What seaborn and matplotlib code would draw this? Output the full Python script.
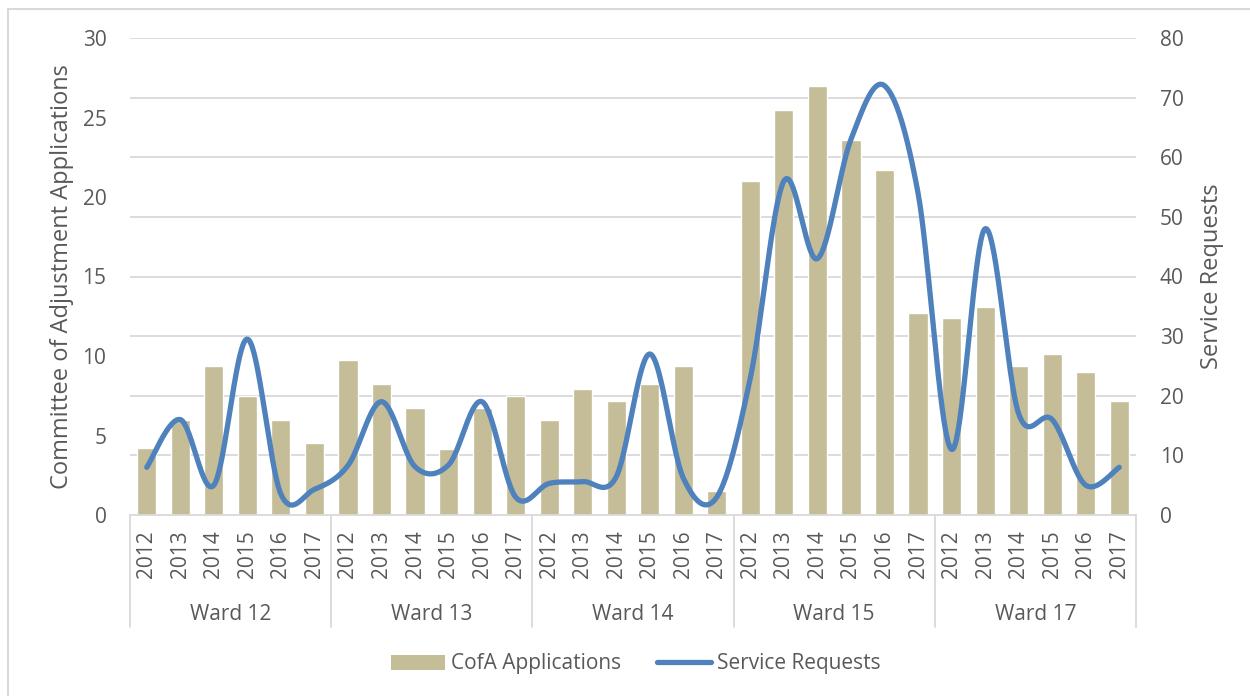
import numpy as np
import pandas as pd
import matplotlib
matplotlib.use("Agg")
import matplotlib.pyplot as plt
import seaborn as sns
from matplotlib.patches import Rectangle, Patch
from matplotlib.lines import Line2D
from matplotlib.transforms import blended_transform_factory

# ---- data -------------------------------------------------------------
wards = ["Ward 12", "Ward 13", "Ward 14", "Ward 15", "Ward 17"]
years = ["2012", "2013", "2014", "2015", "2016", "2017"]

cofa_ward12 = [4.2, 6.0, 9.4, 7.5, 6.0, 4.5]
cofa_ward13 = [9.75, 8.25, 6.75, 4.15, 6.75, 7.5]
cofa_ward14 = [6.0, 7.9, 7.15, 8.25, 9.4, 1.5]
cofa_ward15 = [21.0, 25.45, 26.95, 23.6, 21.7, 12.7]
cofa_ward17 = [12.4, 13.1, 9.4, 10.1, 9.0, 7.15]

service_ward12 = [8, 16, 5, 29.5, 3.5, 4.3]
service_ward13 = [8.3, 19, 8.1, 8.4, 19, 3.0]
service_ward14 = [5.3, 5.6, 6.4, 27, 6.2, 3.0]
service_ward15 = [23, 56, 43, 63, 72, 54]
service_ward17 = [11, 48, 17, 16, 5, 8]

left_ticks = [0, 5, 10, 15, 20, 25, 30]
right_ticks = [0, 10, 20, 30, 40, 50, 60, 70, 80]

cofa = cofa_ward12 + cofa_ward13 + cofa_ward14 + cofa_ward15 + cofa_ward17
service = service_ward12 + service_ward13 + service_ward14 + service_ward15 + service_ward17

df = pd.DataFrame({
    "ward": np.repeat(wards, len(years)),
    "year": years * len(wards),
    "cofa": cofa,
    "service": service,
})
df["slot"] = df["ward"] + " " + df["year"]

# ---- style ------------------------------------------------------------
sns.set_theme(style="white")
plt.rcParams["font.family"] = ["Open Sans", "DejaVu Sans"]
TEXT = "#595959"
GRID = "#D9D9D9"
BAR = "#C4BD97"
LINE = "#4F81BD"
FS = 15

W, H = 1250, 696
fig = plt.figure(figsize=(W / 100, H / 100), dpi=100)
L, R, T, B = 130, 1136, 38, 515
ax = fig.add_axes([L / W, 1 - B / H, (R - L) / W, (B - T) / H])

# outer chart frame
fig.patches.append(Rectangle((8 / W, -0.2), 1.2, 1 - 9 / H + 0.2,
                             transform=fig.transFigure, fill=False,
                             edgecolor=GRID, linewidth=1.5, zorder=0))

# ---- bars (left axis) -------------------------------------------------
sns.barplot(data=df, x="slot", y="cofa", order=list(df["slot"]),
            color=BAR, saturation=1, width=0.57, ax=ax, zorder=2)
ax.set_xlim(-0.5, len(df) - 0.5)
ymax_left = left_ticks[-1]
ax.set_ylim(0, ymax_left)
ax.set_yticks(left_ticks)
ax.set_yticklabels([str(t) for t in left_ticks])

# horizontal gridlines follow the secondary axis steps
for t in right_ticks[1:]:
    ax.axhline(t * ymax_left / right_ticks[-1], color=GRID, lw=1.3, zorder=0)

ax.set_xticks(range(len(df)))
ax.set_xticklabels(df["year"], rotation=90, ha="center", va="top")
ax.tick_params(axis="x", length=0, pad=11, labelsize=FS, labelcolor=TEXT)
ax.tick_params(axis="y", length=0, pad=17, labelsize=FS, labelcolor=TEXT)
ax.set_xlabel("")
ax.set_ylabel("Committee of Adjustment Applications", fontsize=FS + 2,
              color=TEXT, labelpad=6)
for s in ["top", "right", "left"]:
    ax.spines[s].set_visible(False)
ax.spines["bottom"].set_color(GRID)
ax.spines["bottom"].set_linewidth(1.3)

# ward group separators and labels below the axis
trans = blended_transform_factory(ax.transData, ax.transAxes)
sep_depth = (627 - B) / (B - T)
n = len(years)
for i in range(len(wards) + 1):
    xb = i * n - 0.5
    ax.plot([xb, xb], [0, -sep_depth], transform=trans, color=GRID,
            lw=1.3, clip_on=False)
for i, w in enumerate(wards):
    ax.text(i * n + (n - 1) / 2, -(614 - B) / (B - T), w, transform=trans,
            ha="center", va="center", fontsize=FS, color=TEXT)

# ---- smoothed line (right axis) ---------------------------------------
ax2 = ax.twinx()


def catmull_rom(x, y, steps=40):
    px = np.concatenate([[x[0]], x, [x[-1]]])
    py = np.concatenate([[y[0]], y, [y[-1]]])
    xs, ys = [], []
    t = np.linspace(0, 1, steps, endpoint=False)
    for i in range(len(x) - 1):
        for p, out in ((px, xs), (py, ys)):
            p0, p1, p2, p3 = p[i], p[i + 1], p[i + 2], p[i + 3]
            out.append(0.5 * ((2 * p1) + (-p0 + p2) * t
                              + (2 * p0 - 5 * p1 + 4 * p2 - p3) * t ** 2
                              + (-p0 + 3 * p1 - 3 * p2 + p3) * t ** 3))
    xs.append([x[-1]])
    ys.append([y[-1]])
    return np.concatenate(xs), np.concatenate(ys)


xpos = np.arange(len(df), dtype=float)
sx, sy = catmull_rom(xpos, df["service"].to_numpy(dtype=float))
ax2.plot(sx, sy, color=LINE, lw=3.8, solid_capstyle="round", zorder=3)
ax2.set_ylim(0, right_ticks[-1])
ax2.set_yticks(right_ticks)
ax2.set_yticklabels([str(t) for t in right_ticks])
ax2.tick_params(axis="y", length=0, pad=17, labelsize=FS, labelcolor=TEXT)
ax2.set_ylabel("Service Requests", fontsize=FS + 2, color=TEXT, labelpad=12)
ax2.grid(False)
for s in ax2.spines.values():
    s.set_visible(False)

# ---- legend -----------------------------------------------------------
handles = [Patch(facecolor=BAR, edgecolor="none", label="CofA Applications"),
           Line2D([0], [0], color=LINE, lw=3.8, solid_capstyle="round",
                  label="Service Requests")]
fig.legend(handles=handles, loc="center", ncol=2, frameon=False,
           bbox_to_anchor=(636 / W, 1 - 664 / H), fontsize=FS,
           labelcolor=TEXT, handlelength=2.6, handleheight=0.7,
           handletextpad=0.3, columnspacing=1.7)

fig.savefig("out.png", dpi=100)
